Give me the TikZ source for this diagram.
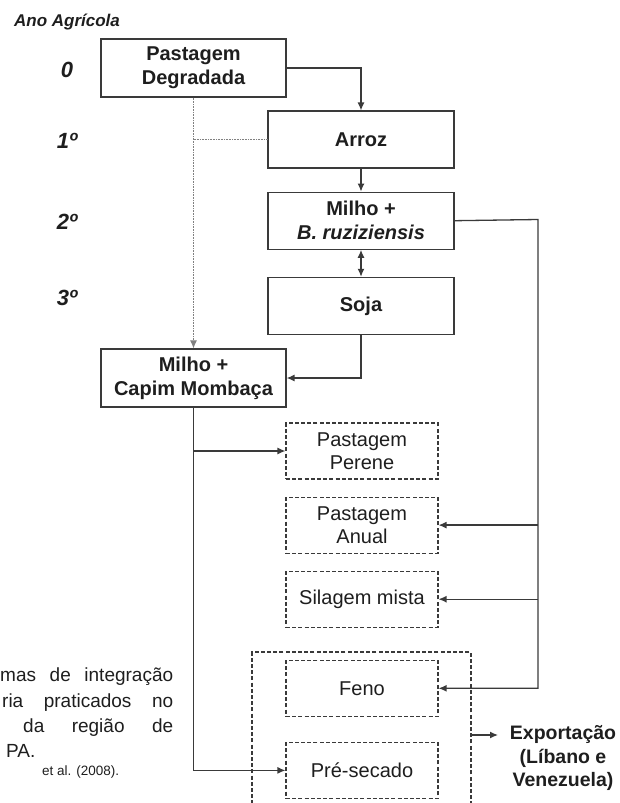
\documentclass[tikz,border=0pt]{standalone}
\usepackage{fontspec}
\setmainfont{Liberation Sans}
\usepackage {tikz}
\usetikzlibrary {positioning}
\usetikzlibrary{shapes,arrows.meta}
\definecolor{traco}{HTML}{3A3A3A}
\definecolor{texto}{HTML}{1E1E1E}
\tikzstyle{block} = [rectangle, draw=traco, line width=1.2pt, text=texto,
    minimum width=186pt, minimum height=57pt, align=center, inner sep=0pt,
    font=\fontsize{20}{24}\selectfont\bfseries]
\tikzstyle{optbox} = [rectangle, draw=traco, line width=1.1pt, text=texto,
    dash pattern=on 4pt off 2.2pt, minimum width=152pt, minimum height=56pt,
    align=center, inner sep=0pt, font=\fontsize{20}{23.5}\selectfont]
\tikzstyle{groupbox} = [rectangle, draw=traco, line width=1.1pt,
    dash pattern=on 4pt off 2.2pt, minimum width=219pt, minimum height=170pt]
\tikzstyle{line} = [draw=traco, line width=1.3pt, -{Latex[length=8pt,width=7pt]}]
\tikzstyle{dualline} = [draw=traco, line width=1.3pt, {Latex[length=8pt,width=7pt]}-{Latex[length=8pt,width=7pt]}]
\tikzstyle{dotline} = [draw=gray, line width=1pt, dash pattern=on 0.8pt off 0.8pt]
\tikzstyle{year} = [text=texto, font=\fontsize{22}{26}\selectfont\bfseries\itshape]
\tikzstyle{capt} = [text=texto, inner sep=0pt, anchor=base west, font=\fontsize{19}{24}\selectfont]

\begin{document}
\begin{tikzpicture}[x=1pt, y=-1pt, node distance=20pt, auto]
    \useasboundingbox (0,0) rectangle (620,803);
    % Place nodes
    \node [text=texto, font=\fontsize{17}{20}\selectfont\bfseries\itshape] (ano) at (67,22) {Ano Agrícola};
    \node [year] (y0) at (67,70) {0};
    \node [year] (y1) at (67,141) {1º};
    \node [year] (y2) at (67,222) {2º};
    \node [year] (y3) at (67,298) {3º};

    \node [block, minimum width=185pt, minimum height=58pt] (degr) at (193.5,68) {Pastagem\\Degradada};
    \node [block] (arroz) at (361,139.5) {Arroz};
    \node [block, below=23pt of arroz] (milhob) {Milho +\\\textit{B. ruziziensis}};
    \node [block, below=27pt of milhob] (soja) {Soja};
    \node [block, minimum width=185pt, minimum height=58pt] (capim) at (193.5,378) {Milho +\\Capim Mombaça};

    \node [optbox] (perene) at (362,451) {Pastagem\\Perene};
    \node [optbox, below=17pt of perene] (anual) {Pastagem\\Anual};
    \node [optbox, below=17pt of anual] (silag) {Silagem mista};
    \node [optbox, below=32pt of silag] (feno) {Feno};
    \node [optbox, below=25pt of feno] (presec) {Pré-secado};
    \node [groupbox] (grupo) at (361.5,737) {};

    \node [text=texto, align=center, inner sep=0pt, font=\fontsize{19.5}{23.5}\selectfont\bfseries] (expo) at (563,758) {Exportação\\(Líbano e\\Venezuela)};
    \coordinate (xp) at (498,735);
    \coordinate (volta) at (538,219.5);

    % caption fragment
    \node [capt] (cap1) at (0,681) {\makebox[173pt][s]{mas de integração}};
    \node [capt] (cap2) at (2,707) {\makebox[171pt][s]{ria praticados no}};
    \node [capt] (cap3) at (23,732) {\makebox[150pt][s]{da região de}};
    \node [capt] (cap4) at (6,757) {PA.};
    \node [capt, font=\fontsize{13.5}{16}\selectfont] (cap5) at (42,775) {et al. (2008).};

    % Draw edges
    \path [line] (degr.east) -| (arroz.north);
    \path [line] (arroz) -- (milhob);
    \path [dualline] (milhob) -- (soja);
    \path [line] (soja.south) |- (capim.east);
    \path [dotline, -{Latex[length=8pt,width=7pt]}] (degr.south) -- (capim.north);
    \path [dotline] (degr.south |- arroz.west) -- (arroz.west);
    \path [line] (milhob.east) -- (volta) |- (feno.east);
    \path [line] (volta |- anual.east) -- (anual.east);
    \path [line] (volta |- silag.east) -- (silag.east);
    \path [line] (capim.south) |- (presec.west);
    \path [line] (capim.south |- perene.west) -- (perene.west);
    \path [line] (grupo.east |- xp) -- (xp);
\end{tikzpicture}
\end{document}
